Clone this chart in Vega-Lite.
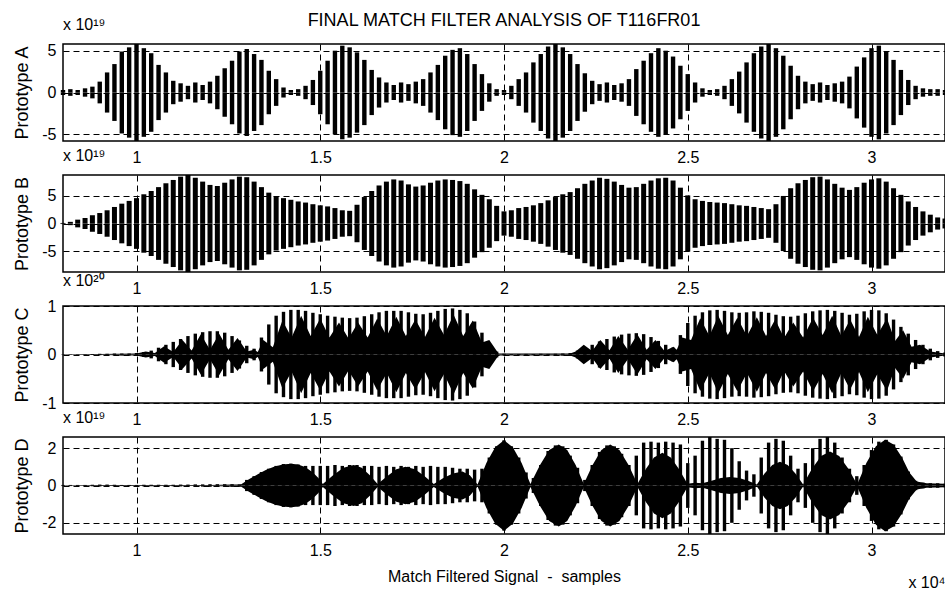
{
"$schema": "https://vega.github.io/schema/vega-lite/v6.json",
"background": "white",
"padding": {"left": 12, "top": 12, "right": 0, "bottom": 0},
"config": {
 "font": "Liberation Sans",
 "view": {"stroke": "black", "strokeWidth": 1.5},
 "axis": {"grid": true, "gridColor": "black", "gridOpacity": 1, "gridDash": [6, 4], "gridWidth": 1, "ticks": false, "domain": false, "labelFontSize": 16, "labelColor": "black", "titleFontWeight": "normal", "titleFontSize": 18, "titleColor": "black"},
 "title": {"fontWeight": "normal", "color": "black"}
},
"title": {"text": "FINAL MATCH FILTER ANALYSIS OF T116FR01", "fontSize": 18, "anchor": "middle", "offset": -14, "frame": "group"},
"spacing": 34,
"bounds": "flush",
"resolve": {"scale": {"x": "independent"}, "axis": {"x": "independent"}},
"datasets": {
"s": [
{"x":8000,"a":0.3,"b":0.1,"c":0.004,"d":0.03},
{"x":8200,"a":0.4,"b":0.3,"c":0.004,"d":0.03},
{"x":8400,"a":0.3,"b":0.7,"c":0.004,"d":0.03},
{"x":8600,"a":0.5,"b":1.0,"c":0.005,"d":0.03},
{"x":8800,"a":0.7,"b":1.5,"c":0.01,"d":0.04},
{"x":9000,"a":1.3,"b":1.9,"c":0.015,"d":0.05},
{"x":9200,"a":2.4,"b":2.4,"c":0.015,"d":0.05},
{"x":9400,"a":3.4,"b":3.0,"c":0.02,"d":0.04},
{"x":9600,"a":4.9,"b":3.6,"c":0.02,"d":0.03},
{"x":9800,"a":5.4,"b":4.1,"c":0.02,"d":0.03},
{"x":10000,"a":5.8,"b":4.6,"c":0.03,"d":0.03},
{"x":10200,"a":5.3,"b":5.3,"c":0.05,"d":0.04},
{"x":10400,"a":4.7,"b":5.9,"c":0.08,"d":0.04},
{"x":10600,"a":3.3,"b":6.6,"c":0.14,"d":0.04},
{"x":10800,"a":2.4,"b":7.3,"c":0.2,"d":0.04},
{"x":11000,"a":1.4,"b":7.9,"c":0.26,"d":0.04},
{"x":11200,"a":1.1,"b":8.5,"c":0.32,"d":0.05},
{"x":11400,"a":0.8,"b":8.8,"c":0.38,"d":0.05},
{"x":11600,"a":1.2,"b":8.3,"c":0.43,"d":0.06},
{"x":11800,"a":0.9,"b":7.6,"c":0.46,"d":0.06},
{"x":12000,"a":1.3,"b":7.0,"c":0.48,"d":0.07},
{"x":12200,"a":2.0,"b":6.8,"c":0.48,"d":0.07},
{"x":12400,"a":2.9,"b":7.4,"c":0.45,"d":0.07},
{"x":12600,"a":3.8,"b":8.0,"c":0.38,"d":0.07},
{"x":12800,"a":4.9,"b":8.5,"c":0.29,"d":0.06},
{"x":13000,"a":5.2,"b":8.4,"c":0.18,"d":0.3},
{"x":13200,"a":4.6,"b":7.6,"c":0.12,"d":0.5},
{"x":13400,"a":3.9,"b":6.6,"c":0.35,"d":0.72},
{"x":13600,"a":2.6,"b":5.6,"c":0.62,"d":0.9},
{"x":13800,"a":1.6,"b":4.9,"c":0.8,"d":1.05},
{"x":14000,"a":0.6,"b":4.6,"c":0.88,"d":1.15},
{"x":14200,"a":0.3,"b":4.3,"c":0.92,"d":1.17},
{"x":14400,"a":0.4,"b":4.0,"c":0.92,"d":1.12},
{"x":14600,"a":0.8,"b":3.8,"c":0.9,"d":1.05},
{"x":14800,"a":1.5,"b":3.5,"c":0.86,"d":1.05},
{"x":15000,"a":2.6,"b":3.3,"c":0.83,"d":1.05},
{"x":15200,"a":3.8,"b":3.1,"c":0.8,"d":1.05},
{"x":15400,"a":5.0,"b":2.8,"c":0.78,"d":1.1},
{"x":15600,"a":5.6,"b":2.4,"c":0.76,"d":1.05},
{"x":15800,"a":5.4,"b":2.3,"c":0.75,"d":1.1},
{"x":16000,"a":4.8,"b":3.4,"c":0.76,"d":1.1},
{"x":16200,"a":3.9,"b":4.8,"c":0.79,"d":1.05},
{"x":16400,"a":2.7,"b":5.9,"c":0.83,"d":1.05},
{"x":16600,"a":1.8,"b":6.9,"c":0.87,"d":1.0},
{"x":16800,"a":1.2,"b":7.6,"c":0.9,"d":1.05},
{"x":17000,"a":0.9,"b":8.0,"c":0.9,"d":1.0},
{"x":17200,"a":1.2,"b":7.8,"c":0.9,"d":1.05},
{"x":17400,"a":1.0,"b":7.1,"c":0.87,"d":1.0},
{"x":17600,"a":1.3,"b":6.7,"c":0.84,"d":1.05},
{"x":17800,"a":1.6,"b":6.9,"c":0.83,"d":1.0},
{"x":18000,"a":2.4,"b":7.4,"c":0.86,"d":1.05},
{"x":18200,"a":3.3,"b":7.8,"c":0.9,"d":1.0},
{"x":18400,"a":4.4,"b":8.0,"c":0.94,"d":1.0},
{"x":18600,"a":5.1,"b":7.9,"c":0.95,"d":0.95},
{"x":18800,"a":5.3,"b":7.7,"c":0.92,"d":0.9},
{"x":19000,"a":4.6,"b":7.2,"c":0.85,"d":0.9},
{"x":19200,"a":3.4,"b":6.2,"c":0.68,"d":0.85},
{"x":19400,"a":2.2,"b":5.2,"c":0.45,"d":0.9},
{"x":19600,"a":1.1,"b":4.4,"c":0.22,"d":1.5},
{"x":19800,"a":0.4,"b":3.2,"c":0.06,"d":2.1},
{"x":20000,"a":0.3,"b":2.2,"c":0.015,"d":2.42},
{"x":20200,"a":0.8,"b":2.4,"c":0.01,"d":2.1},
{"x":20400,"a":1.6,"b":2.8,"c":0.01,"d":1.5},
{"x":20600,"a":2.4,"b":3.0,"c":0.012,"d":0.7},
{"x":20800,"a":3.6,"b":3.3,"c":0.01,"d":0.4},
{"x":21000,"a":4.6,"b":3.7,"c":0.015,"d":1.1},
{"x":21200,"a":5.5,"b":4.2,"c":0.012,"d":1.85},
{"x":21400,"a":5.8,"b":4.8,"c":0.015,"d":2.15},
{"x":21600,"a":5.4,"b":5.3,"c":0.02,"d":2.1},
{"x":21800,"a":4.6,"b":5.7,"c":0.03,"d":1.6},
{"x":22000,"a":3.4,"b":6.4,"c":0.08,"d":0.95},
{"x":22200,"a":2.3,"b":7.2,"c":0.14,"d":0.3},
{"x":22400,"a":1.4,"b":7.8,"c":0.2,"d":1.1},
{"x":22600,"a":1.0,"b":8.3,"c":0.27,"d":1.8},
{"x":22800,"a":1.2,"b":8.1,"c":0.32,"d":2.15},
{"x":23000,"a":0.9,"b":7.6,"c":0.37,"d":2.1},
{"x":23200,"a":1.1,"b":7.0,"c":0.41,"d":1.7},
{"x":23400,"a":1.6,"b":6.5,"c":0.43,"d":1.1},
{"x":23600,"a":2.8,"b":6.6,"c":0.44,"d":1.6},
{"x":23800,"a":3.8,"b":7.2,"c":0.42,"d":2.3},
{"x":24000,"a":4.7,"b":7.8,"c":0.36,"d":2.35},
{"x":24200,"a":5.3,"b":8.2,"c":0.28,"d":2.3},
{"x":24400,"a":5.0,"b":8.3,"c":0.2,"d":2.35},
{"x":24600,"a":4.3,"b":7.8,"c":0.14,"d":2.3},
{"x":24800,"a":3.2,"b":6.5,"c":0.4,"d":2.2},
{"x":25000,"a":2.2,"b":5.1,"c":0.65,"d":1.2},
{"x":25200,"a":1.2,"b":4.4,"c":0.8,"d":1.6},
{"x":25400,"a":0.5,"b":4.1,"c":0.87,"d":2.4},
{"x":25600,"a":0.3,"b":3.9,"c":0.91,"d":2.6},
{"x":25800,"a":0.4,"b":3.8,"c":0.92,"d":2.5},
{"x":26000,"a":0.8,"b":3.7,"c":0.9,"d":2.45},
{"x":26200,"a":1.6,"b":3.5,"c":0.87,"d":2.0},
{"x":26400,"a":2.5,"b":3.3,"c":0.86,"d":1.3},
{"x":26600,"a":3.6,"b":3.2,"c":0.87,"d":0.8},
{"x":26800,"a":4.7,"b":3.0,"c":0.89,"d":0.6},
{"x":27000,"a":5.5,"b":2.8,"c":0.88,"d":1.5},
{"x":27200,"a":5.8,"b":2.6,"c":0.86,"d":2.3},
{"x":27400,"a":5.3,"b":3.5,"c":0.82,"d":2.5},
{"x":27600,"a":4.4,"b":5.0,"c":0.79,"d":2.4},
{"x":27800,"a":3.2,"b":6.4,"c":0.78,"d":1.6},
{"x":28000,"a":2.0,"b":7.3,"c":0.8,"d":0.9},
{"x":28200,"a":1.3,"b":7.9,"c":0.85,"d":1.2},
{"x":28400,"a":1.0,"b":8.4,"c":0.89,"d":2.0},
{"x":28600,"a":1.2,"b":8.5,"c":0.91,"d":2.5},
{"x":28800,"a":0.9,"b":8.0,"c":0.92,"d":2.6},
{"x":29000,"a":1.1,"b":7.2,"c":0.9,"d":2.3},
{"x":29200,"a":1.3,"b":6.5,"c":0.86,"d":1.5},
{"x":29400,"a":1.9,"b":6.1,"c":0.82,"d":0.9},
{"x":29600,"a":3.1,"b":6.6,"c":0.84,"d":0.5},
{"x":29800,"a":4.2,"b":7.4,"c":0.89,"d":1.1},
{"x":30000,"a":5.3,"b":8.0,"c":0.92,"d":1.9},
{"x":30200,"a":5.6,"b":8.2,"c":0.91,"d":2.35},
{"x":30400,"a":4.9,"b":7.6,"c":0.85,"d":2.45},
{"x":30600,"a":3.9,"b":6.4,"c":0.72,"d":2.2},
{"x":30800,"a":2.7,"b":5.2,"c":0.57,"d":1.55},
{"x":31000,"a":1.5,"b":4.0,"c":0.43,"d":0.75},
{"x":31200,"a":0.8,"b":3.0,"c":0.3,"d":0.25},
{"x":31400,"a":0.5,"b":2.2,"c":0.2,"d":0.15},
{"x":31600,"a":0.4,"b":1.6,"c":0.12,"d":0.12},
{"x":31800,"a":0.4,"b":1.1,"c":0.07,"d":0.12},
{"x":32000,"a":0.3,"b":0.9,"c":0.04,"d":0.1}
],
"cc": [
{"x":8000,"v":0.003},{"x":9000,"v":0.01},{"x":10000,"v":0.02},{"x":10250,"v":0.06},{"x":10500,"v":0.03},
{"x":10750,"v":0.17},{"x":11000,"v":0.05},{"x":11250,"v":0.3},{"x":11500,"v":0.08},{"x":11750,"v":0.42},
{"x":12000,"v":0.1},{"x":12250,"v":0.43},{"x":12500,"v":0.1},{"x":12750,"v":0.34},{"x":13000,"v":0.06},
{"x":13200,"v":0.1},{"x":13300,"v":0.05},{"x":13450,"v":0.3},{"x":13710,"v":0.15},{"x":13970,"v":0.7},
{"x":14220,"v":0.35},{"x":14480,"v":0.8},{"x":14740,"v":0.38},{"x":15000,"v":0.74},{"x":15250,"v":0.35},
{"x":15510,"v":0.66},{"x":15770,"v":0.33},{"x":16030,"v":0.66},{"x":16290,"v":0.35},{"x":16550,"v":0.74},
{"x":16810,"v":0.38},{"x":17070,"v":0.78},{"x":17330,"v":0.38},{"x":17590,"v":0.72},{"x":17850,"v":0.36},
{"x":18110,"v":0.76},{"x":18370,"v":0.4},{"x":18630,"v":0.82},{"x":18890,"v":0.38},{"x":19150,"v":0.7},
{"x":19400,"v":0.25},{"x":19600,"v":0.3},{"x":19850,"v":0.02},{"x":21800,"v":0.02},{"x":21950,"v":0.06},
{"x":22170,"v":0.2},{"x":22400,"v":0.07},{"x":22620,"v":0.3},{"x":22870,"v":0.09},{"x":23110,"v":0.38},
{"x":23370,"v":0.1},{"x":23630,"v":0.41},{"x":23880,"v":0.1},{"x":24120,"v":0.3},{"x":24370,"v":0.07},
{"x":24610,"v":0.16},{"x":24700,"v":0.1},{"x":24850,"v":0.35},{"x":25090,"v":0.3},{"x":25340,"v":0.75},
{"x":25590,"v":0.38},{"x":25830,"v":0.8},{"x":26090,"v":0.4},{"x":26350,"v":0.76},{"x":26610,"v":0.38},
{"x":26880,"v":0.77},{"x":27130,"v":0.38},{"x":27380,"v":0.72},{"x":27620,"v":0.34},{"x":27870,"v":0.66},
{"x":28140,"v":0.35},{"x":28410,"v":0.76},{"x":28670,"v":0.4},{"x":28930,"v":0.8},{"x":29180,"v":0.38},
{"x":29420,"v":0.72},{"x":29660,"v":0.36},{"x":29900,"v":0.78},{"x":30160,"v":0.4},{"x":30420,"v":0.75},
{"x":30640,"v":0.28},{"x":30860,"v":0.5},{"x":31090,"v":0.16},{"x":31320,"v":0.2},{"x":31600,"v":0.06},
{"x":32000,"v":0.02}
],
"dc": [
{"x":8000,"v":0.02},{"x":9000,"v":0.03},{"x":12000,"v":0.03},{"x":12600,"v":0.06},{"x":12840,"v":0.05},
{"x":13070,"v":0.35},{"x":13300,"v":0.6},{"x":13530,"v":0.85},{"x":13760,"v":1.02},{"x":13980,"v":1.13},
{"x":14200,"v":1.17},{"x":14400,"v":1.12},{"x":14600,"v":0.98},{"x":14800,"v":0.7},{"x":14950,"v":0.4},
{"x":15070,"v":0.08},{"x":15350,"v":0.55},{"x":15630,"v":0.95},{"x":15910,"v":1.1},{"x":16130,"v":0.95},
{"x":16350,"v":0.55},{"x":16560,"v":0.08},{"x":16820,"v":0.5},{"x":17070,"v":0.87},{"x":17320,"v":1.0},
{"x":17580,"v":0.87},{"x":17840,"v":0.5},{"x":18090,"v":0.08},{"x":18350,"v":0.4},{"x":18610,"v":0.65},
{"x":18870,"v":0.75},{"x":19070,"v":0.55},{"x":19280,"v":0.06},{"x":19520,"v":1.2},{"x":19760,"v":2.05},
{"x":20000,"v":2.42},{"x":20240,"v":2.05},{"x":20480,"v":1.2},{"x":20720,"v":0.08},{"x":20980,"v":1.1},
{"x":21230,"v":1.9},{"x":21490,"v":2.2},{"x":21720,"v":1.9},{"x":21950,"v":1.1},{"x":22170,"v":0.08},
{"x":22410,"v":1.1},{"x":22650,"v":1.9},{"x":22890,"v":2.2},{"x":23140,"v":1.9},{"x":23390,"v":1.1},
{"x":23630,"v":0.08},{"x":23860,"v":0.88},{"x":24080,"v":1.5},{"x":24310,"v":1.75},{"x":24540,"v":1.5},
{"x":24760,"v":0.88},{"x":24990,"v":0.1},{"x":25200,"v":0.15},{"x":25400,"v":0.12},{"x":25650,"v":0.25},
{"x":25900,"v":0.4},{"x":26150,"v":0.45},{"x":26400,"v":0.4},{"x":26640,"v":0.25},{"x":26880,"v":0.05},
{"x":27090,"v":0.65},{"x":27300,"v":1.1},{"x":27510,"v":1.27},{"x":27720,"v":1.1},{"x":27930,"v":0.65},
{"x":28140,"v":0.06},{"x":28380,"v":0.9},{"x":28630,"v":1.58},{"x":28870,"v":1.82},{"x":29120,"v":1.58},
{"x":29370,"v":0.9},{"x":29610,"v":0.06},{"x":29860,"v":1.2},{"x":30120,"v":2.1},{"x":30370,"v":2.45},
{"x":30600,"v":2.2},{"x":30830,"v":1.5},{"x":31030,"v":0.7},{"x":31230,"v":0.22},{"x":31500,"v":0.12},
{"x":32000,"v":0.1}
]
},
"vconcat": [
{
 "width": 882, "height": 97,
 "title": {"text": "x 10¹⁹", "anchor": "start", "frame": "group", "fontSize": 16, "offset": 9},
 "data": {"name": "s"},
 "layer": [
  {"mark": {"type": "rule", "strokeWidth": 4.4, "color": "black"},
   "encoding": {
    "x": {"field": "x", "type": "quantitative", "scale": {"domain": [8000, 32000], "nice": false, "zero": false}, "axis": {"values": [10000, 15000, 20000, 25000, 30000], "labelExpr": "datum.value / 10000", "title": null, "labelPadding": 8}},
    "y": {"field": "a", "type": "quantitative", "scale": {"domain": [-5.8, 5.8], "nice": false, "zero": false}, "axis": {"values": [-5, 0, 5], "labelExpr": "'' + datum.value", "title": "Prototype A", "labelPadding": 7, "titleX": -32}},
    "y2": {"datum": 0}}},
  {"mark": {"type": "rule", "strokeWidth": 4.4, "color": "black"},
   "encoding": {
    "x": {"field": "x", "type": "quantitative"},
    "y": {"field": "a", "type": "quantitative", "scale": {"domain": [-5.8, 5.8], "nice": false, "zero": false, "reverse": true}, "axis": null},
    "y2": {"datum": 0}}}
 ],
 "resolve": {"scale": {"y": "independent"}}
},
{
 "width": 882, "height": 97,
 "title": {"text": "x 10¹⁹", "anchor": "start", "frame": "group", "fontSize": 16, "offset": 9},
 "data": {"name": "s"},
 "layer": [
  {"mark": {"type": "rule", "strokeWidth": 5, "color": "black"},
   "encoding": {
    "x": {"field": "x", "type": "quantitative", "scale": {"domain": [8000, 32000], "nice": false, "zero": false}, "axis": {"values": [10000, 15000, 20000, 25000, 30000], "labelExpr": "datum.value / 10000", "title": null, "labelPadding": 8}},
    "y": {"field": "b", "type": "quantitative", "scale": {"domain": [-8.8, 8.8], "nice": false, "zero": false}, "axis": {"values": [-5, 0, 5], "labelExpr": "'' + datum.value", "title": "Prototype B", "labelPadding": 7, "titleX": -32}},
    "y2": {"datum": 0}}},
  {"mark": {"type": "rule", "strokeWidth": 5, "color": "black"},
   "encoding": {
    "x": {"field": "x", "type": "quantitative"},
    "y": {"field": "b", "type": "quantitative", "scale": {"domain": [-8.8, 8.8], "nice": false, "zero": false, "reverse": true}, "axis": null},
    "y2": {"datum": 0}}}
 ],
 "resolve": {"scale": {"y": "independent"}}
},
{
 "width": 882, "height": 97,
 "title": {"text": "x 10²⁰", "anchor": "start", "frame": "group", "fontSize": 16, "offset": 9},
 "data": {"name": "s"},
 "layer": [
  {"mark": {"type": "rule", "strokeWidth": 3.4, "color": "black"},
   "encoding": {
    "x": {"field": "x", "type": "quantitative", "scale": {"domain": [8000, 32000], "nice": false, "zero": false}, "axis": {"values": [10000, 15000, 20000, 25000, 30000], "labelExpr": "datum.value / 10000", "title": null, "labelPadding": 8}},
    "y": {"field": "c", "type": "quantitative", "scale": {"domain": [-1, 1], "nice": false, "zero": false}, "axis": {"values": [-1, 0, 1], "labelExpr": "'' + datum.value", "title": "Prototype C", "labelPadding": 7, "titleX": -32}},
    "y2": {"datum": 0}}},
  {"mark": {"type": "rule", "strokeWidth": 3.4, "color": "black"},
   "encoding": {
    "x": {"field": "x", "type": "quantitative"},
    "y": {"field": "c", "type": "quantitative", "scale": {"domain": [-1, 1], "nice": false, "zero": false, "reverse": true}, "axis": null},
    "y2": {"datum": 0}}},
  {"data": {"name": "cc"}, "mark": {"type": "area", "color": "black"},
   "encoding": {
    "x": {"field": "x", "type": "quantitative"},
    "y": {"field": "v", "type": "quantitative", "scale": {"domain": [-1, 1], "nice": false, "zero": false}, "axis": null},
    "y2": {"datum": 0}}},
  {"data": {"name": "cc"}, "mark": {"type": "area", "color": "black"},
   "encoding": {
    "x": {"field": "x", "type": "quantitative"},
    "y": {"field": "v", "type": "quantitative", "scale": {"domain": [-1, 1], "nice": false, "zero": false, "reverse": true}, "axis": null},
    "y2": {"datum": 0}}}
 ],
 "resolve": {"scale": {"y": "independent"}}
},
{
 "width": 882, "height": 97,
 "title": {"text": "x 10¹⁹", "anchor": "start", "frame": "group", "fontSize": 16, "offset": 9},
 "data": {"name": "s"},
 "layer": [
  {"mark": {"type": "rule", "strokeWidth": 3.4, "color": "black"},
   "encoding": {
    "x": {"field": "x", "type": "quantitative", "scale": {"domain": [8000, 32000], "nice": false, "zero": false}, "axis": {"orient": "bottom", "values": [10000, 15000, 20000, 25000, 30000], "labelExpr": "datum.value / 10000", "title": "Match Filtered Signal \u00a0-\u00a0 samples", "titleFontSize": 16, "titlePadding": 10, "labelPadding": 8}},
    "y": {"field": "d", "type": "quantitative", "scale": {"domain": [-2.6, 2.6], "nice": false, "zero": false}, "axis": {"values": [-2, 0, 2], "labelExpr": "'' + datum.value", "title": "Prototype D", "labelPadding": 7, "titleX": -32}},
    "y2": {"datum": 0}}},
  {"mark": {"type": "rule", "strokeWidth": 3.4, "color": "black"},
   "encoding": {
    "x": {"field": "x", "type": "quantitative", "axis": {"orient": "bottom", "labels": false, "grid": false, "title": "x 10⁴", "titleAnchor": "end", "titleFontSize": 16, "titlePadding": 40}},
    "y": {"field": "d", "type": "quantitative", "scale": {"domain": [-2.6, 2.6], "nice": false, "zero": false, "reverse": true}, "axis": null},
    "y2": {"datum": 0}}},
  {"data": {"name": "dc"}, "mark": {"type": "area", "color": "black"},
   "encoding": {
    "x": {"field": "x", "type": "quantitative", "axis": null},
    "y": {"field": "v", "type": "quantitative", "scale": {"domain": [-2.6, 2.6], "nice": false, "zero": false}, "axis": null},
    "y2": {"datum": 0}}},
  {"data": {"name": "dc"}, "mark": {"type": "area", "color": "black"},
   "encoding": {
    "x": {"field": "x", "type": "quantitative", "axis": null},
    "y": {"field": "v", "type": "quantitative", "scale": {"domain": [-2.6, 2.6], "nice": false, "zero": false, "reverse": true}, "axis": null},
    "y2": {"datum": 0}}}
 ],
 "resolve": {"scale": {"y": "independent"}, "axis": {"x": "independent"}}
}
]
}
